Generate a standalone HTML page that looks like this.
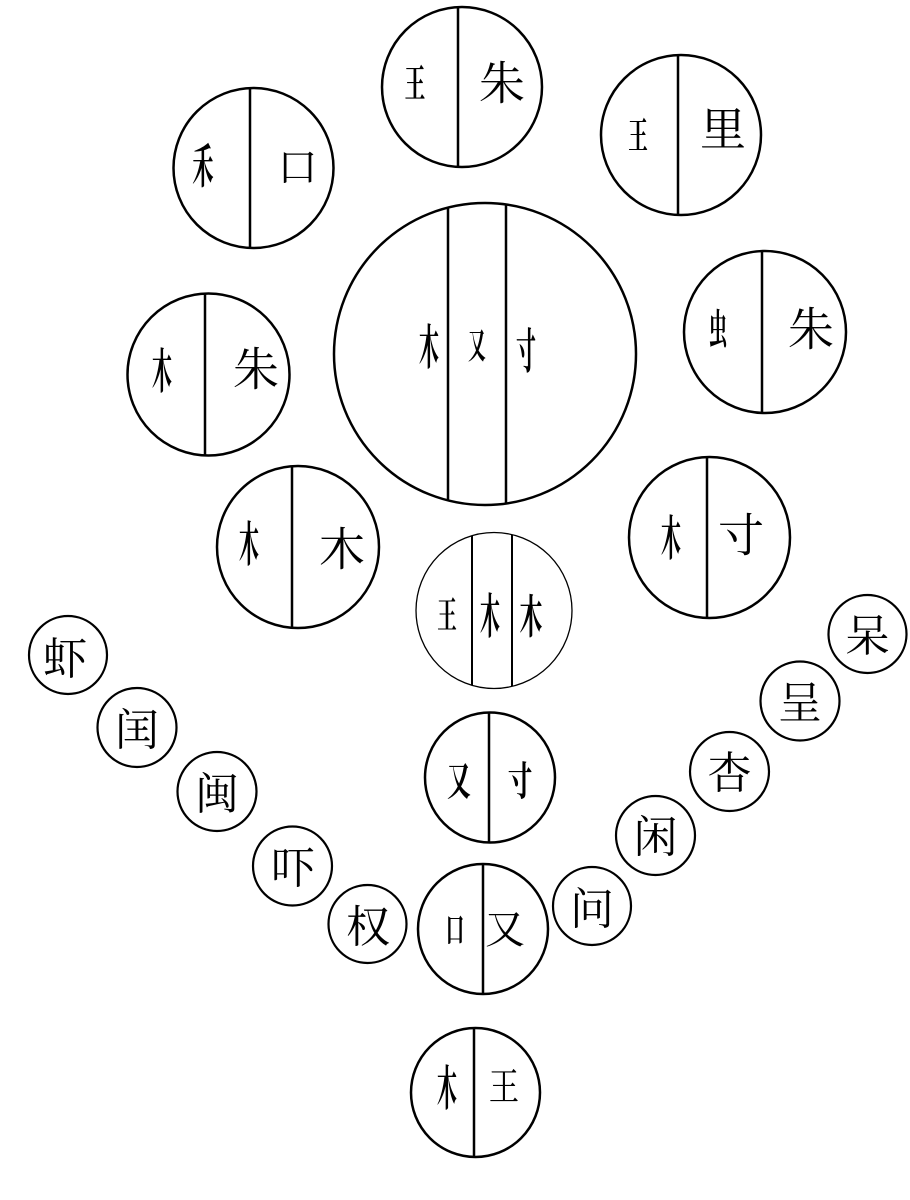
<!DOCTYPE html>
<html><head><meta charset="utf-8"><style>
html,body{margin:0;padding:0;background:#fff;}
svg{display:block;}
text{font-family:"Liberation Serif","Noto Serif CJK SC","Noto Sans CJK SC",serif;fill:#000;text-anchor:middle;}
.n{font-weight:bold;}
</style></head><body>
<svg width="910" height="1200" viewBox="0 0 910 1200" xmlns="http://www.w3.org/2000/svg">
<g fill="none" stroke="#000" stroke-width="2.5">
  <circle cx="253.5" cy="168" r="80"/><line x1="250" y1="88" x2="250" y2="248"/>
  <circle cx="462" cy="87" r="80"/><line x1="458" y1="7" x2="458" y2="167"/>
  <circle cx="681" cy="135" r="80"/><line x1="678" y1="55" x2="678" y2="215"/>
  <circle cx="485" cy="354" r="151"/><line x1="448" y1="207.6" x2="448" y2="500.4"/><line x1="506" y1="204.5" x2="506" y2="503.5"/>
  <circle cx="208.5" cy="374.5" r="81"/><line x1="205" y1="293.5" x2="205" y2="455.5"/>
  <circle cx="765" cy="332" r="81"/><line x1="762" y1="251" x2="762" y2="413"/>
  <circle cx="298" cy="547" r="81"/><line x1="292" y1="466.2" x2="292" y2="627.8"/>
  <circle cx="709.5" cy="537.5" r="80.5"/><line x1="707" y1="457" x2="707" y2="618"/>
  <circle cx="490" cy="777.5" r="65"/><line x1="489" y1="712.5" x2="489" y2="842.5"/>
  <circle cx="483" cy="929" r="65"/><line x1="483" y1="864" x2="483" y2="994"/>
  <circle cx="475.5" cy="1092.5" r="64.5"/><line x1="474" y1="1028" x2="474" y2="1157"/>
  <g stroke-width="2.2">
  <circle cx="68" cy="655" r="39"/>
  <circle cx="137" cy="727.5" r="39.5"/>
  <circle cx="217" cy="791.5" r="39.5"/>
  <circle cx="292.5" cy="866" r="39.5"/>
  <circle cx="367.5" cy="924" r="39"/>
  <circle cx="592" cy="906" r="39"/>
  <circle cx="655.5" cy="835.5" r="39.5"/>
  <circle cx="729.5" cy="771.5" r="39.5"/>
  <circle cx="800" cy="701" r="39.5"/>
  <circle cx="867.5" cy="634" r="39"/>
  </g>
</g>
<g fill="none" stroke="#000">
  <circle cx="494" cy="610.5" r="78" stroke-width="1.3"/>
  <line x1="472" y1="535.7" x2="472" y2="685.3" stroke-width="2"/>
  <line x1="512" y1="534.6" x2="512" y2="686.4" stroke-width="2"/>
</g>

<g font-size="46">
  <text class="n" transform="translate(203,183) scale(0.45,1)" font-size="47">禾</text>
  <text x="297.5" y="181" font-size="40">口</text>
  <text class="n" transform="translate(415,97) scale(0.55,1)" font-size="38">王</text>
  <text x="502" y="99.5">朱</text>
  <text class="n" transform="translate(638,148) scale(0.55,1)" font-size="36">王</text>
  <text x="723" y="145.5">里</text>
  <text class="n" transform="translate(429,364) scale(0.42,1)" font-size="48">木</text>
  <text class="n" transform="translate(477,358) scale(0.5,1)" font-size="36">又</text>
  <text class="n" transform="translate(526,368) scale(0.42,1)" font-size="48">寸</text>
  <text class="n" transform="translate(162,388) scale(0.42,1)" font-size="48">木</text>
  <text x="256" y="385.5">朱</text>
  <text class="n" transform="translate(718,344) scale(0.45,1)" font-size="42">虫</text>
  <text x="811" y="345.5">朱</text>
  <text class="n" transform="translate(249,561) scale(0.42,1)" font-size="48">木</text>
  <text x="342" y="565.5">木</text>
  <text class="n" transform="translate(671,555) scale(0.42,1)" font-size="48">木</text>
  <text x="741" y="551.5">寸</text>
  <text class="n" transform="translate(447,627.5) scale(0.55,1)" font-size="36">王</text>
  <text class="n" transform="translate(490,633) scale(0.42,1)" font-size="48">木</text>
  <text class="n" transform="translate(531,633) scale(0.5,1)" font-size="46">木</text>
  <text class="n" transform="translate(459,795) scale(0.6,1)" font-size="40">又</text>
  <text class="n" transform="translate(520,795) scale(0.62,1)" font-size="40">寸</text>
  <text class="n" transform="translate(455,942) scale(0.55,1)" font-size="34">口</text>
  <text x="505" y="943" font-size="40">又</text>
  <text class="n" transform="translate(447,1105) scale(0.42,1)" font-size="48">木</text>
  <text transform="translate(504,1100) scale(0.8,1)" font-size="38">王</text>
</g>
<g font-size="44">
  <text x="65" y="674">虾</text>
  <text x="137" y="745">闰</text>
  <text x="217" y="809">闽</text>
  <text x="293" y="883" fill="#222">吓</text>
  <text x="368" y="942" fill="#222">权</text>
  <text x="592" y="924">问</text>
  <text x="655.5" y="852">闲</text>
  <text x="729.5" y="788">杏</text>
  <text x="800" y="718">呈</text>
  <text x="867.5" y="651">呆</text>
</g>
</svg>
</body></html>
